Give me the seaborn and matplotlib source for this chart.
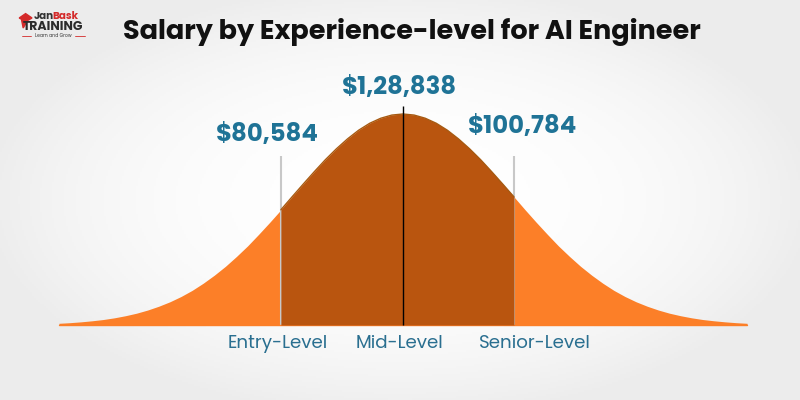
import numpy as np
import pandas as pd
import matplotlib.pyplot as plt
import seaborn as sns
from matplotlib.patches import Polygon

# curve: position (in sd units) and height relative to peak
curve_z = [-3.1, -3.0, -2.9, -2.8, -2.7, -2.6, -2.5, -2.4, -2.3, -2.2, -2.1, -2.0, -1.9, -1.8, -1.7, -1.6,
           -1.5, -1.4, -1.3, -1.2, -1.1, -1.0, -0.9, -0.8, -0.7, -0.6, -0.5, -0.4, -0.3, -0.2, -0.1, 0.0,
           0.1, 0.2, 0.3, 0.4, 0.5, 0.6, 0.7, 0.8, 0.9, 1.0, 1.1, 1.2, 1.3, 1.4, 1.5, 1.6,
           1.7, 1.8, 1.9, 2.0, 2.1, 2.2, 2.3, 2.4, 2.5, 2.6, 2.7, 2.8, 2.9, 3.0, 3.1]
curve_h = [0.008, 0.011, 0.015, 0.020, 0.026, 0.034, 0.044, 0.056, 0.071, 0.089, 0.110, 0.135, 0.164, 0.198,
           0.236, 0.278, 0.325, 0.375, 0.430, 0.487, 0.546, 0.607, 0.667, 0.726, 0.783, 0.835, 0.882, 0.923,
           0.956, 0.980, 0.995, 1.000,
           0.995, 0.980, 0.956, 0.923, 0.882, 0.835, 0.783, 0.726, 0.667, 0.607, 0.546, 0.487, 0.430, 0.375,
           0.325, 0.278, 0.236, 0.198, 0.164, 0.135, 0.110, 0.089, 0.071, 0.056, 0.044, 0.034, 0.026, 0.020,
           0.015, 0.011, 0.008]

levels = ['Entry-Level', 'Mid-Level', 'Senior-Level']
salaries = ['$80,584', '$1,28,838', '$100,784']
level_z = [-1.1, 0.0, 1.0]

df = pd.DataFrame({'z': curve_z, 'h': curve_h})

sns.set_theme(style='white')
plt.rcParams['font.family'] = ['Poppins', 'Inter', 'DejaVu Sans']

fig = plt.figure(figsize=(8, 4), dpi=100)
fig.patch.set_facecolor('#f3f3f3')

# soft background: white in the middle, light grey at the edges
bg = fig.add_axes([0, 0, 1, 1])
gx, gy = np.meshgrid(np.linspace(-1, 1, 400), np.linspace(-1, 1, 200))
r = np.clip(np.sqrt((gx / 1.05) ** 2 + (gy / 1.1) ** 2), 0, 1)
bg.imshow(r ** 2.5, cmap=sns.blend_palette(['#ffffff', '#ececec'], as_cmap=True),
          extent=[0, 1, 0, 1], aspect='auto', vmin=0, vmax=1)
bg.axis('off')

ax = fig.add_axes([0, 0, 1, 1])
ax.patch.set_alpha(0)
ax.set_xlim(-403 / 111, 397 / 111)
ax.set_ylim(-75 / 211, 325 / 211)
ax.axis('off')

z = df['z'].to_numpy()
h = df['h'].to_numpy()
ax.fill_between(z, 0, h, color='#fc7f28', lw=0)
mid = (z >= level_z[0] - 1e-9) & (z <= level_z[2] + 1e-9)
ax.plot([z[0], z[-1]], [0, 0], color='#fc7f28', lw=1)

# marker lines
peak = max(curve_h)
ax.vlines([level_z[0], level_z[2]], 0, 0.80 * peak, color='#c8c8c8', lw=1.5, zorder=1)
ax.fill_between(z[mid], 0, h[mid], color='#b9550f', lw=0, zorder=2)
sns.lineplot(data=df[mid], x='z', y='h', color='#a65a12', lw=1, ax=ax, zorder=2)
ax.vlines(level_z[1], 0, 1.04 * peak, color='black', lw=1, zorder=3)

teal = '#1f7396'
val_dx = [-0.12, -0.03, 0.08]
val_y = [0.90, 1.12, 0.935]
for zz, s, dx, yy in zip(level_z, salaries, val_dx, val_y):
    ax.text(zz + dx, yy, s, ha='center', va='center', fontsize=17.5, fontweight='bold', color=teal)

lab_dx = [-0.03, -0.03, 0.19]
for zz, name, dx in zip(level_z, levels, lab_dx):
    ax.text(zz + dx, -0.09, name, ha='center', va='center', fontsize=13.2, color='#2a6f90')

fig.text(0.515, 0.92, 'Salary by Experience-level for AI Engineer', ha='center', va='center',
         fontsize=19.5, fontweight='bold', color='#111111')

# logo
fig.add_artist(Polygon([[0.024, 0.955], [0.032, 0.966], [0.040, 0.955], [0.032, 0.946]],
                       closed=True, color='#d42a2a', transform=fig.transFigure))
fig.add_artist(Polygon([[0.027, 0.950], [0.029, 0.930], [0.033, 0.944]],
                       closed=True, color='#d42a2a', transform=fig.transFigure))
fig.text(0.042, 0.958, 'Jan', ha='left', va='center', fontsize=7.5, fontweight='bold', color='#333333')
fig.text(0.066, 0.958, 'Bask', ha='left', va='center', fontsize=7.5, fontweight='bold', color='#d42a2a')
fig.text(0.029, 0.932, 'TRAINING', ha='left', va='center', fontsize=9, fontweight='bold', color='#2b2b2b')
fig.text(0.0665, 0.911, 'Learn and Grow', ha='center', va='center', fontsize=3.3, color='#333333')
fig.add_artist(plt.Line2D([0.027, 0.039], [0.911, 0.911], color='#d42a2a', lw=0.6))
fig.add_artist(plt.Line2D([0.094, 0.106], [0.911, 0.911], color='#d42a2a', lw=0.6))

fig.savefig('out.png', dpi=100, facecolor=fig.get_facecolor())
